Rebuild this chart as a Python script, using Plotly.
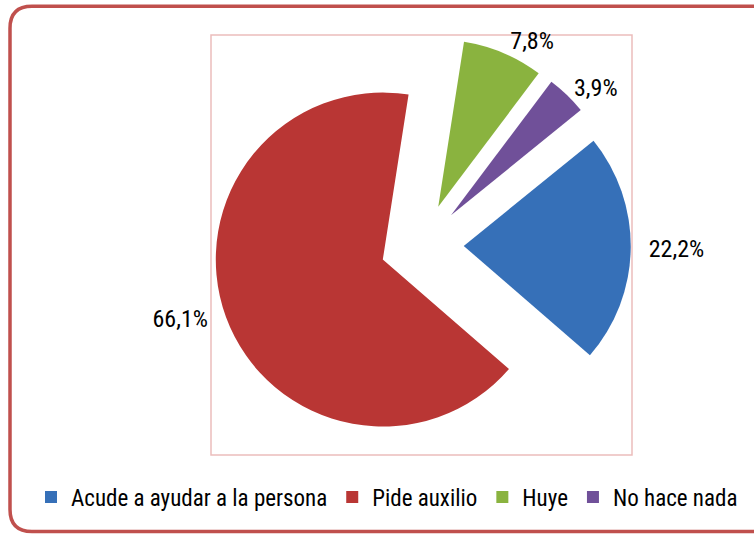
import plotly.graph_objects as go

labels = ["Acude a ayudar a la persona", "Pide auxilio", "Huye", "No hace nada"]
values = [22.2, 66.1, 7.8, 3.9]
colors = ["#3670B8", "#B93634", "#8AB33F", "#705099"]
pulls = [0.25, 0.25, 0.25, 0.25]

W, H = 754, 534
FONT = "Roboto Condensed, Liberation Sans Narrow, Arial Narrow, sans-serif"

# label templates (non-breaking spaces only nudge the side labels outward)
PCT = "%{value:.1f}%"
templates = ["&nbsp;&nbsp;" + PCT, PCT + "&nbsp;&nbsp;", PCT, PCT]

def px(x):
    return x / W

def py(y):
    return 1 - y / H

fig = go.Figure(go.Pie(
    labels=labels,
    values=values,
    sort=False,
    direction="clockwise",
    rotation=51,
    pull=pulls,
    marker=dict(colors=colors, line=dict(width=0)),
    texttemplate=templates,
    textposition="outside",
    textfont=dict(family=FONT, size=24, color="#000000"),
    domain=dict(x=[px(192), px(652)], y=[py(454), py(36.5)]),
    hoverinfo="label+percent",
))

# outer rounded frame (right side runs off the canvas)
L, T, B, R, r = 10, 6.3, 531.5, 764, 22
path = (
    f"M {px(R)},{py(T)} L {px(L + r)},{py(T)} "
    f"Q {px(L)},{py(T)} {px(L)},{py(T + r)} "
    f"L {px(L)},{py(B - r)} "
    f"Q {px(L)},{py(B)} {px(L + r)},{py(B)} "
    f"L {px(R)},{py(B)}"
)

shapes = [
    dict(type="path", xref="paper", yref="paper", path=path,
         line=dict(color="#C0504D", width=3.5), layer="above"),
    dict(type="rect", xref="paper", yref="paper",
         x0=px(211), x1=px(632), y0=py(455), y1=py(35),
         line=dict(color="#EBBDBC", width=1.5), layer="below"),
]

fig.update_layout(
    width=W, height=H,
    margin=dict(l=0, r=0, t=0, b=0, autoexpand=False),
    paper_bgcolor="#FFFFFF",
    separators=",.",
    font=dict(family=FONT, size=23, color="#000000"),
    showlegend=True,
    legend=dict(
        orientation="h",
        x=px(31), xanchor="left",
        y=py(497), yanchor="middle",
        font=dict(family=FONT, size=23, color="#000000"),
        bgcolor="rgba(0,0,0,0)",
    ),
    shapes=shapes,
)

fig.write_html("out.html", config={"displayModeBar": False},
               post_script="document.body.style.margin='0';")
